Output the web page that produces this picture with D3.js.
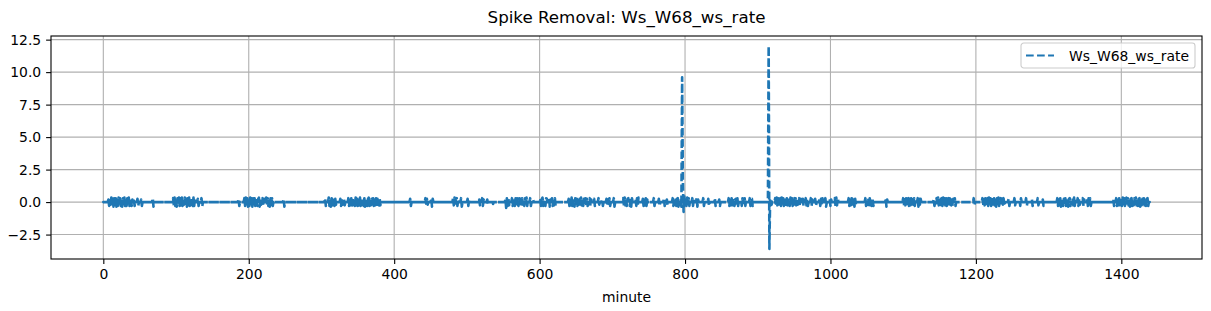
<!DOCTYPE html>
<html>
<head>
<meta charset="utf-8">
<script src="https://cdn.jsdelivr.net/npm/d3@7"></script>
<style>
  body { margin: 0; background: #fff; }
  svg { display: block; font-family: "DejaVu Sans", sans-serif; }
  .tick text { font-size: 13.9px; fill: #000; }
</style>
</head>
<body>
<div id="chart"></div>
<script>
// minute-of-day readings, two days overlaid on the same x axis
// each burst: [start minute, values for consecutive minutes]; other minutes are 0
var seriesName = "Ws_W68_ws_rate";
var minutesPerDay = 1440;

var day1Bursts = [
  [7, [.2,-.3,.3,-.2,.35,-.3,.25,-.35,.3,-.2,.3,-.35,.2,-.3,.35,-.25,.3,-.3,.2,-.35,.3,-.2,.35,-.3,.25,-.3,.3,-.2,.35,-.3,0,.3,-.3,.2,0,.3,-.3,0,0,0,.25,-.3,0,0,0,.2,-.3]],
  [68, [.3,-.35]],
  [96, [.3,-.25,.35,-.3,.25,-.35,.3,-.2,.35,-.3,.3,-.25,.35,-.3,.3,-.2,.35,-.3,.25,-.35,.3,-.25,.35,-.3,.3,-.2,.25,-.3,.35,-.3,.3,0,0,0,.25,-.3,0,0,0,.3,-.35]],
  [186, [.25,-.3,0,0,0,0,0,0,.3,-.3,.35,-.25,.3,-.35,.25,-.3,.35,-.2,.3,-.35,.3,-.25,.3,-.3,.35,-.2,-.3,.25,.35,-.35,.25,-.2,0,.3,-.3,.25,0,0,.35,-.25,.3,-.3,.25,-.35,.3,-.2,.3,-.3,0,0,0,0,0,0,0,0,0,0,0,0,0,0,.25,-.35]],
  [305, [.3,-.3,0,0,0,.35,-.3,.25,-.35,.3,-.25,.3,-.2,-.3,.25,-.2,0,0,0,0,0,.25,-.3,.3,-.2,0,.25,-.25,0,0,0,0,.3,-.3,.35,-.25,.3,-.35,.25,-.2,.3,-.3,.35,-.25,.25,-.3,.3,-.25,.35,-.3,.3,-.2,.25,-.3,.3,-.35,.25,.3,-.3,.25,.35,-.3,.3,-.25,.25,-.3,.3,-.3,.35,-.25,.3,-.3,.25,-.2,-.25,.3,-.25]],
  [443, [.3,-.3,.25,-.2,0,0,0,0,.3,-.35,.25]],
  [481, [.3,-.25,.35,-.3,.25,.3,-.3,.2,0,0,0,.3,-.35,0,0,0,0,0,0,0,.25,-.3,.2,0,0,0,0,0,0,0,0,0,0,0,0,0,.2,-.25,0,0,.3,-.3,.2,0,0,0,0,.2,-.2]],
  [553, [.2,-.45,.3,-.3,.35,-.25,0,0,0,.3,-.3,.25,.35,-.3,.3,-.25,.3,-.2,-.3,.3,-.25,.25,-.3,.3,-.2,.25,-.3,.3,-.25,.35,-.3,.2,0,0,.3,-.3,0,0,.2]],
  [640, [.25,-.3,.3,-.25,.35,-.3,.3,-.2,-.35,.3,-.25,.25,-.3,.3,-.2,.25,-.3,.35,-.25,.3,-.3,.25,-.2,.3,-.25,.25,-.3,0,0,.3,-.3,.2,0,0,0,.25,-.3,0,0,0,0,.3,-.2,0,0,0,.2,-.3,0,0,0,0,.25,-.3,.2,-.2,.3,-.3]],
  [715, [.3,-.3,.35,-.25,.3,-.3,.25,.3,-.2,-.3,.25,-.35,.3,0,0,0,0,.2,-.3,.3,-.25,.35,0,0,0,0,0,.25,-.3,.3,-.25,.3,-.3,.2]],
  [783, [.3,-.3,.25,-.2,.35,-.3,.25,.3,-.35,.2,-.2,.3,-.35,9.6,1.8,-.75,.45,-.35,.3,-.3,.35,-.25,.3,-.3,.2,0,0,.3,-.3,.25,0,0,0,.3,-.35,.2,0,0]],
  [860, [.3,-.3,.35,-.25,.3,-.35,.25,.3,-.3,.2,.25,-.25,.3,-.3,0,0,0,.2,-.3,.3,-.2,-.25,.3,-.3,.2,0,0,0,0,.3,-.3,.25,.25,-.3]],
  [1048, [.3,-.3,.25,-.2,.3,-.35,.3,-.25,.25,-.3,.2,-.3]],
  [1197, [.3,-.25]],
  [1238, [.3,-.3,0,0,0,0,0,.25,-.3,0,0,0,0,0,0,.3,-.25,0,0,0,0,0,.2,-.3,.3,0,0,0,0,0,0,.3,-.3,0,0,0,0,0,0,.25,-.3,0,0,0,0,0,0,.3,-.25,0,0,0,0,0,.2,-.3]]
];

var day2Bursts = [
  [422, [.25,-.3]],
  [535, [.1,-.15]],
  [601, [.3,-.3,.25,.35,-.3,.2,-.2,-.3,.3,.25,0,0,.3,-.35,.2,-.2,.3,-.3,.25,-.25,.3,-.3]],
  [702, [.3,-.35]],
  [757, [.3,-.3,0,0,0,0,0,.25,-.3,0,0,0,0,0,.3,-.3,0,0,.2,-.25]],
  [825, [.3,-.3,0,0,0,0,0,.25,-.3,0,0,0,0,0,0,0,.3,-.3,0,0,0,0,.2,-.3]],
  [915, [12.0,-3.6,.2,.3,-.2]],
  [924, [.3,-.3,.35,-.25,.3,-.35,.25,.3,-.3,.35,-.25,.3,-.3,.25,.35,-.3,.3,-.25,.3,-.2,-.3,.35,-.25,.3,-.3,.25,.3,-.35,.3,-.25,.3,-.2,0,.3,-.3,.25,0,0,.25,-.3,0,0,.3,-.25,.25,-.3,0,0,0,.3,-.3,.2,0,0,0,.25,-.3,0,0,0,0,.3,-.3,.25,-.25,.3,0,0,0,.3,-.35,0,0,0,0,.25,-.3,.2,0,0,0,0,.3,-.3,.35,-.25,.3]],
  [1025, [.3,-.3,.35,-.25,.3,-.3,.25,.3,-.35,.25,-.2]],
  [1076, [.3,-.35,.2]],
  [1100, [.3,-.3,.35,-.25,.3,-.35,.25,.3,-.3,.25,-.25,.3,-.3,.2,-.2,.3,-.3,.2,0,0,.3,-.35,.25,-.2,.25]],
  [1142, [.2,-.3,0,0,.3,-.3,.35,-.25,.3,-.35,.25,.3,-.3,.35,-.25,.3,-.25,.3,-.3,.25,.3,-.35,.3,-.2,-.25,.3,-.3,.25,-.2,.3,-.3]],
  [1209, [.3,-.3,.35,-.25,.3,-.35,.25,.3,-.3,.35,-.25,.3,-.3,.25,.35,-.3,.3,-.25,.3,-.35,.3,-.25,.35,-.3,.25,.3,-.3,.25,-.2]],
  [1312, [.3,-.3,.35,-.25,.3,-.35,.25,.3,-.3,.25,-.25,.3,-.3,.2,.3,-.35,.25,.3,-.3,0,0,.3,-.25,.35,-.3,.2,0,0,.3,-.3,.25,-.2,0,0,0,.3,-.3,.2,0,0,0,.25,-.3,.3,-.25,.3,-.3]],
  [1389, [.25,-.3,0,0,.3,-.3,.35,-.25,.3,-.35,.25,.3,-.3,.35,-.25,.3,-.3,.25,.35,-.3,.3,-.25,.3,-.35,.25,.3,-.3,.25,-.25,.3,-.3,.35,-.25,.3,-.3,.25,.3,-.35,.3,-.25,.25,-.3,.3,-.25,.35,-.3,.25,.3,-.3]]
];

var xTicks = [0, 200, 400, 600, 800, 1000, 1200, 1400];
var yTicks = [-2.5, 0, 2.5, 5, 7.5, 10, 12.5];

var data = [];
[day1Bursts, day2Bursts].forEach(function(bursts) {
  var vals = new Array(minutesPerDay).fill(0);
  bursts.forEach(function(b) {
    b[1].forEach(function(v, i) { vals[b[0] + i] = v; });
  });
  vals.forEach(function(v, m) { data.push({minute: m, value: v}); });
});

var W = 1211, H = 311,
    margin = {top: 36, right: 9, bottom: 52, left: 51},
    width = W - margin.left - margin.right,
    height = H - margin.top - margin.bottom;

var svg = d3.select("#chart").append("svg")
    .attr("width", W)
    .attr("height", H);

var g = svg.append("g").attr("transform", "translate(" + margin.left + "," + margin.top + ")");

// matplotlib-like 5% margins
var xExt = d3.extent(data, function(d) { return d.minute; }),
    yExt = d3.extent(data, function(d) { return d.value; }),
    xPad = (xExt[1] - xExt[0]) * 0.05,
    yPad = (yExt[1] - yExt[0]) * 0.05;

var x = d3.scaleLinear()
    .domain([xExt[0] - xPad, xExt[1] + xPad])
    .range([0, width]);

var y = d3.scaleLinear()
    .domain([yExt[0] - yPad, yExt[1] + yPad])
    .range([height, 0]);

// grid
g.append("g").selectAll("line")
    .data(xTicks)
  .enter().append("line")
    .attr("x1", function(d) { return x(d); })
    .attr("x2", function(d) { return x(d); })
    .attr("y1", 0).attr("y2", height)
    .attr("stroke", "#b0b0b0").attr("stroke-width", 1.1);

g.append("g").selectAll("line")
    .data(yTicks)
  .enter().append("line")
    .attr("y1", function(d) { return y(d); })
    .attr("y2", function(d) { return y(d); })
    .attr("x1", 0).attr("x2", width)
    .attr("stroke", "#b0b0b0").attr("stroke-width", 1.1);

// the series
var line = d3.line()
    .x(function(d) { return x(d.minute); })
    .y(function(d) { return y(d.value); });

g.append("path")
    .datum(data)
    .attr("fill", "none")
    .attr("stroke", "#1f77b4")
    .attr("stroke-width", 2.6)
    .attr("stroke-linejoin", "round")
    .attr("stroke-dasharray", "7.7,3.33")
    .attr("d", line);

// axes
var xAxis = g.append("g")
    .attr("transform", "translate(0," + height + ")")
    .call(d3.axisBottom(x).tickValues(xTicks).tickFormat(d3.format("d")).tickSize(4.9).tickPadding(4.9));

var yAxis = g.append("g")
    .call(d3.axisLeft(y).tickValues(yTicks).tickFormat(d3.format(".1f")).tickSize(4.9).tickPadding(4.9));

[xAxis, yAxis].forEach(function(a) {
  a.select(".domain").remove();
  a.selectAll(".tick line").attr("stroke", "#000").attr("stroke-width", 1.1);
  a.selectAll("text").attr("font-family", "DejaVu Sans");
});

g.append("rect")
    .attr("width", width)
    .attr("height", height)
    .attr("fill", "none")
    .attr("stroke", "#000")
    .attr("stroke-width", 1.1);

// title and label
svg.append("text")
    .attr("x", margin.left + width / 2)
    .attr("y", 23)
    .attr("text-anchor", "middle")
    .attr("font-size", "16.7px")
    .text("Spike Removal: " + seriesName);

svg.append("text")
    .attr("x", margin.left + width / 2)
    .attr("y", 302)
    .attr("text-anchor", "middle")
    .attr("font-size", "13.9px")
    .text("minute");

// legend
var legend = g.append("g")
    .attr("transform", "translate(" + (width - 7 - 174) + ",7)");

legend.append("rect")
    .attr("width", 174)
    .attr("height", 25)
    .attr("rx", 2.8)
    .attr("fill", "#fff")
    .attr("fill-opacity", 0.8)
    .attr("stroke", "#cccccc")
    .attr("stroke-width", 1.1);

legend.append("line")
    .attr("x1", 5).attr("x2", 33)
    .attr("y1", 12.5).attr("y2", 12.5)
    .attr("stroke", "#1f77b4")
    .attr("stroke-width", 2.08)
    .attr("stroke-dasharray", "7.7,3.33");

legend.append("text")
    .attr("x", 48)
    .attr("y", 17.5)
    .attr("font-size", "13.9px")
    .text(seriesName);
</script>
</body>
</html>
